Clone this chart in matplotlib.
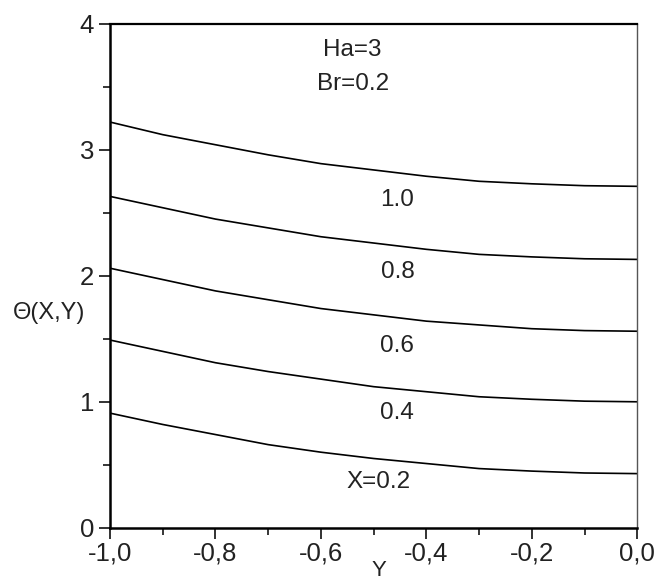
import matplotlib
matplotlib.use("Agg")
import matplotlib.pyplot as plt
from matplotlib.ticker import MultipleLocator, FixedLocator

plt.rcParams["font.family"] = ["Liberation Sans", "DejaVu Sans"]

# transverse coordinate Y
yCoord = [-1.0, -0.9, -0.8, -0.7, -0.6, -0.5, -0.4, -0.3, -0.2, -0.1, 0.0]

# temperature profiles, one per X position
theta10 = [3.22, 3.12, 3.04, 2.96, 2.89, 2.84, 2.79, 2.75, 2.73, 2.715, 2.71]
theta08 = [2.63, 2.54, 2.45, 2.38, 2.31, 2.26, 2.21, 2.17, 2.15, 2.135, 2.13]
theta06 = [2.06, 1.97, 1.88, 1.81, 1.74, 1.69, 1.64, 1.61, 1.58, 1.565, 1.56]
theta04 = [1.49, 1.40, 1.31, 1.24, 1.18, 1.12, 1.08, 1.04, 1.02, 1.005, 1.00]
theta02 = [0.91, 0.82, 0.74, 0.66, 0.60, 0.55, 0.51, 0.47, 0.45, 0.435, 0.43]

curves = [theta10, theta08, theta06, theta04, theta02]
curveLabels = ["1.0", "0.8", "0.6", "0.4", "X=0.2"]
labelPos = [(-0.455, 2.60), (-0.455, 2.03), (-0.455, 1.44), (-0.455, 0.91), (-0.49, 0.36)]

xTicks = [-1.0, -0.8, -0.6, -0.4, -0.2, 0.0]
xTickLabels = ["-1,0", "-0,8", "-0,6", "-0,4", "-0,2", "0,0"]
yTicks = [0, 1, 2, 3, 4]

fig = plt.figure(figsize=(6.59, 5.80), dpi=100)
ax = fig.add_axes([0.167, 0.09, 0.80, 0.869])

for c in curves:
    ax.plot(yCoord, c, color="black", linewidth=1.2)

for lab, (px, py) in zip(curveLabels, labelPos):
    ax.text(px, py, lab, ha="center", va="center", fontsize=17.5, color="#222222")

ax.text(-0.54, 3.79, "Ha=3", ha="center", va="center", fontsize=17.5, color="#222222")
ax.text(-0.54, 3.52, "Br=0.2", ha="center", va="center", fontsize=17.5, color="#222222")

ax.set_xlim(-1.0, 0.0)
ax.set_ylim(0, 4)
ax.xaxis.set_major_locator(FixedLocator(xTicks))
ax.set_xticklabels(xTickLabels)
ax.xaxis.set_minor_locator(MultipleLocator(0.1))
ax.yaxis.set_major_locator(FixedLocator(yTicks))
ax.yaxis.set_minor_locator(MultipleLocator(0.5))
ax.tick_params(which="major", direction="out", length=8, width=1.3, labelsize=18.5, colors="#222222")
ax.tick_params(axis="x", which="major", pad=2)
ax.tick_params(which="minor", direction="out", length=5, width=1.1)

ax.spines["left"].set_linewidth(1.8)
ax.spines["bottom"].set_linewidth(1.8)
ax.spines["top"].set_linewidth(1.6)
ax.spines["right"].set_linewidth(1.0)
ax.spines["right"].set_color("#555555")

ax.set_xlabel("Y", fontsize=16, color="#222222", va="top")
ax.xaxis.set_label_coords(0.51, -0.064)
ax.set_ylabel("Θ(X,Y)", fontsize=17, color="#222222", rotation=0, va="center")
ax.yaxis.set_label_coords(-0.115, 0.427)

plt.savefig("out.png", dpi=100)
plt.close()
